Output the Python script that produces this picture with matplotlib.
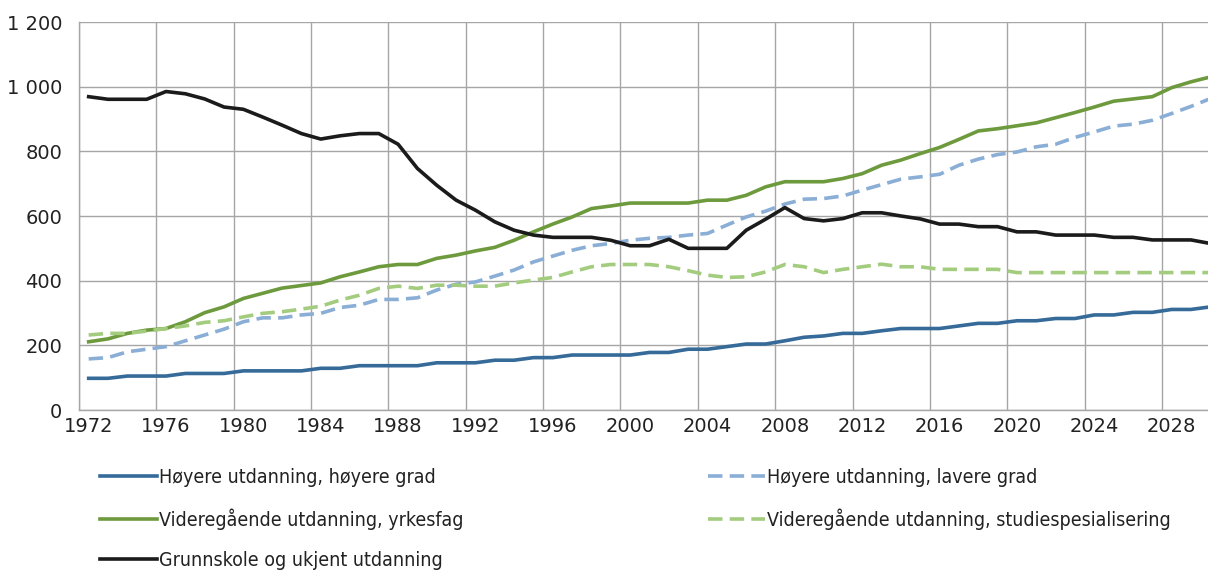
import numpy as np
import matplotlib
matplotlib.use('Agg')
import matplotlib.pyplot as plt
from matplotlib import font_manager
from matplotlib.ticker import FuncFormatter

years = list(range(1972, 2031))

# thousands of persons
hoyere_grad = [98, 98, 105, 105, 105, 113, 113, 113, 121, 121, 121, 121, 129, 129, 137, 137, 137, 137,
               146, 146, 146, 154, 154, 162, 162, 170, 170, 170, 170, 178, 178, 188, 188, 196, 204, 204,
               214, 225, 229, 237, 237, 245, 252, 252, 252, 260, 268, 268, 276, 276, 283, 283, 294, 294,
               302, 302, 311, 311, 319]
lavere_grad = [158, 162, 180, 188, 196, 214, 232, 250, 273, 285, 285, 294, 299, 317, 324, 342, 342, 347,
               371, 389, 396, 414, 433, 458, 476, 494, 508, 515, 525, 531, 534, 541, 546, 572, 597, 615,
               637, 652, 654, 662, 680, 697, 714, 721, 729, 757, 776, 790, 798, 814, 822, 843, 860, 878,
               884, 896, 917, 939, 963]
yrkesfag = [211, 220, 237, 247, 252, 273, 301, 319, 345, 361, 377, 385, 393, 412, 427, 443, 450, 450,
            469, 479, 492, 503, 525, 551, 575, 597, 623, 631, 640, 640, 640, 640, 649, 649, 664, 690,
            706, 706, 706, 716, 731, 757, 773, 793, 812, 837, 863, 870, 879, 888, 904, 920, 937, 955,
            962, 969, 997, 1015, 1030]
studiespes = [232, 237, 237, 244, 252, 260, 271, 276, 288, 299, 304, 312, 321, 340, 355, 376, 383, 376,
              386, 386, 383, 383, 393, 402, 410, 427, 443, 450, 450, 450, 443, 431, 417, 410, 412, 427,
              450, 443, 425, 435, 443, 451, 443, 443, 435, 435, 435, 435, 425, 425, 425, 425, 425, 425,
              425, 425, 425, 425, 425]
grunnskole = [969, 961, 961, 961, 985, 978, 962, 937, 930, 906, 881, 855, 838, 848, 855, 855, 822, 747,
              695, 649, 618, 582, 556, 541, 534, 534, 534, 525, 508, 508, 528, 500, 500, 500, 556, 590,
              626, 592, 585, 592, 610, 610, 600, 591, 575, 575, 567, 567, 551, 551, 541, 541, 541, 534,
              534, 526, 526, 526, 515]

labels = ['Høyere utdanning, høyere grad', 'Høyere utdanning, lavere grad',
          'Videregående utdanning, yrkesfag', 'Videregående utdanning, studiespesialisering',
          'Grunnskole og ukjent utdanning']
colors = ['#356a99', '#8aaed6', '#6e9a3e', '#a3cc7e', '#1b1b1b']

fig = plt.figure(figsize=(12.08, 5.72), dpi=100)
ax = fig.add_axes([79 / 1208, 162 / 572, 1141 / 1208, 388 / 572])

lw = 2.6
h1, = ax.plot(years, hoyere_grad, color=colors[0], lw=lw)
h2, = ax.plot(years, lavere_grad, color=colors[1], lw=lw, dashes=(4, 2))
h3, = ax.plot(years, yrkesfag, color=colors[2], lw=lw)
h4, = ax.plot(years, studiespes, color=colors[3], lw=lw, dashes=(4, 2))
h5, = ax.plot(years, grunnskole, color=colors[4], lw=lw)

ax.set_xlim(1971.5, 2030.5)
ax.set_ylim(0, 1200)
ax.set_yticks(range(0, 1201, 200))
ax.yaxis.set_major_formatter(FuncFormatter(lambda v, p: f'{int(v):,}'.replace(',', ' ')))
ax.set_xticks(range(1972, 2031, 4))
ax.set_xticks(np.arange(1971.5, 2031, 4), minor=True)
ax.tick_params(axis='x', which='both', length=0, labelsize=14, pad=5, colors='#222222')
ax.tick_params(axis='y', length=0, labelsize=14, pad=12, colors='#222222')
ax.grid(False)
ax.xaxis.grid(True, which='minor', color='#a6a6a6', lw=1)
ax.yaxis.grid(True, which='major', color='#a6a6a6', lw=1)
ax.set_axisbelow(True)
for s in ['top', 'right']:
    ax.spines[s].set_visible(False)
for s in ['left', 'bottom']:
    ax.spines[s].set_color('#a6a6a6')
    ax.spines[s].set_linewidth(1)

# condensed face, closest to the narrow legend font of the original
lfont = font_manager.FontProperties(family=['DejaVu Sans'], stretch='condensed', size=14)
leg_kw = dict(frameon=False, prop=lfont, handlelength=2.95, handletextpad=0.08,
              labelspacing=1.08, loc='upper left', borderaxespad=0, borderpad=0)
leg1 = fig.legend([h1, h3, h5], [labels[0], labels[2], labels[4]],
                  bbox_to_anchor=(100 / 1208, 1 - 468 / 572), **leg_kw)
leg2 = fig.legend([h2, h4], [labels[1], labels[3]],
                  bbox_to_anchor=(708 / 1208, 1 - 468 / 572), **leg_kw)
for t in leg1.get_texts() + leg2.get_texts():
    t.set_color('#222222')

fig.savefig('out.png', dpi=100)
